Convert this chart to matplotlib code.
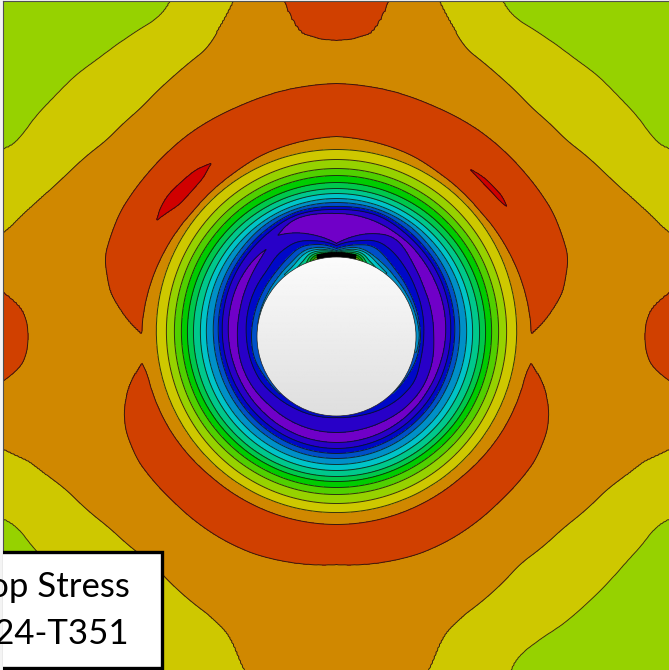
#Hoop stress field around a cold worked hole, contour plot
#every contour is read off the picture as radius against angle (degrees from straight up)
import numpy as np
import matplotlib
matplotlib.use('Agg')
import matplotlib.pyplot as plt
from matplotlib.patches import Rectangle, Circle

plt.rcParams['font.family'] = ['Lato', 'DejaVu Sans']

box_lines = ['Hoop Stress', '2024-T351']

band_colors = ['#7000C8', '#2800C8', '#0008C8', '#0050C8', '#0090C8', '#00C4C8', '#00C88C',
               '#00C84C', '#00CC00', '#50D000', '#96D200', '#CEC800', '#D08800', '#D04000', '#D00000']

#rings around the hole, radius in px where the field reaches each level
ring_angles = [0, 8, 15, 22, 30, 38, 45, 60, 75, 90, 105, 120, 135, 150, 165, 180]
ring_v02 = [127, 127.5, 128, 127.5, 125, 123, 121.5, 118.8, 116.1, 114, 112.5, 111.8, 111.6, 111.7, 111.9, 112]
ring_v03 = [130, 130.5, 131, 130.5, 128.5, 127, 125.3, 122.6, 120, 118, 116.7, 116.4, 116.2, 116.5, 116.8, 117]
ring_v04 = [134, 134, 134, 133.5, 133, 131.5, 129.7, 127.3, 124.9, 123, 121.8, 121.3, 121.3, 121.6, 121.9, 122]
ring_v05 = [138, 137.9, 137.6, 137.3, 136.6, 135.8, 135, 133.3, 131.5, 130, 128.9, 128.3, 128, 128, 128, 128]
ring_v06 = [143, 142.9, 142.7, 142.3, 141.8, 141.1, 140.4, 138.9, 137.3, 136, 135, 134.4, 134.1, 134, 134, 134]
ring_v07 = [148, 147.9, 147.8, 147.6, 147.2, 146.8, 146.3, 145.3, 144.1, 143, 142, 141.3, 140.7, 140.3, 140.1, 140]
ring_v08 = [154, 153.9, 153.8, 153.6, 153.3, 153, 152.4, 151.4, 150.2, 149, 147.9, 146.9, 146, 145.5, 145.1, 145]
ring_v09 = [161, 160.9, 160.7, 160.5, 160.1, 159.6, 159, 158, 156.4, 155, 153.8, 153, 152, 151.4, 151.1, 151]
ring_v10 = [168, 167.9, 167.7, 167.5, 167.1, 166.6, 166, 165, 163.4, 162, 160.8, 160, 159, 158.4, 158.1, 158]
ring_v11 = [177, 176.9, 176.7, 176.4, 175.8, 175.2, 174.5, 173, 171.4, 170, 168.8, 168, 167.5, 167.2, 167, 167]
ring_v12 = [187, 186.9, 186.7, 186.4, 185.9, 185.3, 184.6, 183.1, 181.5, 180, 178.7, 177.6, 176.9, 176.4, 176.1, 176]

#purple band, left side comes in two pieces
left_top_angles = [0, 8, 15, 22, 30]
left_top_in = [93, 100, 106, 112, 117]
left_top_out = [123, 124, 125, 124, 117]
left_low_angles = [39, 45, 60, 75, 90, 105, 120, 135, 150, 165, 180]
left_low_in = [112, 108, 103, 100, 99, 99, 98, 96, 96, 96, 96]
left_low_out = [112, 113, 112, 110, 108, 106.3, 105.5, 105.3, 105.6, 105.9, 106]
right_in = [93, 100, 106, 111, 115, 111, 106, 100, 98, 97, 99, 100, 99, 97, 96, 96]
right_out = [123, 123, 122, 121, 119, 118, 116, 113, 111, 109, 107, 106, 106, 106, 106, 106]

#rise towards the hole edge, 79 means the level is not reached
left_v02_in = [91, 96, 99, 103, 102, 100, 96, 94, 92, 90, 89, 88, 85, 83, 82, 81]
left_v03_in = [88, 93, 95, 97, 93, 90, 88, 86, 85, 85, 85, 82, 81, 80, 79, 79]
left_v04_in = [86, 90, 92, 92, 87, 85, 83, 81, 80, 79, 79, 79, 79, 79, 79, 79]
left_v05_in = [85, 88, 90, 89, 83, 81, 81, 79, 79, 79, 79, 79, 79, 79, 79, 79]
left_hole_v = [11.8, 11.5, 10.5, 7, 6, 5, 5, 4.5, 4.1, 4, 3.6, 3.3, 3, 2.8, 2.5, 2.3]
right_v02_in = [91, 96, 99, 104, 103, 100, 97, 92, 89, 87, 87, 90, 88, 85, 82, 81]
right_v03_in = [88, 92, 95, 98, 94, 90, 88, 85, 84, 84, 83, 81, 80, 79, 79, 79]
right_v04_in = [86, 90, 92, 90, 87, 85, 83, 82, 82, 83, 81, 79, 79, 79, 79, 79]
right_v05_in = [85, 88, 90, 88, 83, 81, 80, 79, 79, 79, 79, 79, 79, 79, 79, 79]
right_hole_v = [11.8, 11.5, 10.5, 7, 6, 5, 4.5, 4.2, 4.5, 4.6, 3.8, 3.3, 3, 2.8, 2.5, 2.3]

#outer contours, both sides share these
red_top_in_a = [0, 22.8, 32, 48.6, 64, 80, 89]
red_top_in_r = [200, 196, 193, 190.6, 192, 194, 195]
red_top_out_a = [0, 22.6, 35, 48, 60, 71, 79, 85.6, 89]
red_top_out_r = [253, 250, 250.5, 249.5, 249.5, 245, 230, 208.6, 195]
red_low_in_a = [98, 101, 119, 139, 153, 180]
red_low_in_r = [196, 193, 191, 188, 187.8, 188]
red_low_out_a = [98, 103, 109, 114, 122, 135, 150, 159, 180]
red_low_out_r = [196, 212, 224.5, 230.7, 234, 232, 232.6, 232.4, 228]
patch_top_a = [0, 3, 6.7, 8.2, 9, 10]
patch_top_r = [296, 297.5, 305, 321, 340, 365]
patch_side_a = [80.5, 82, 84.4, 87, 90, 93, 95.6, 98, 99.5]
patch_side_r = [360, 339, 317.5, 310, 308, 310, 317, 339, 360]
yellow_up_a = [15, 18, 23.7, 28, 32.3, 40.5, 49.5, 60, 65, 73, 78]
yellow_up_r = [365, 343, 316, 311, 306.7, 300.5, 302, 316, 326, 348, 380]
green_up_a = [22, 26.2, 29.1, 36.3, 41.2, 44.6, 49.3, 54.5, 58, 61, 63]
green_up_r = [400, 373, 364.5, 365, 366, 369, 370, 373, 373, 380, 400]
yellow_low_a = [106, 109.1, 110.3, 113.2, 119.3, 130.1, 141, 156.2, 161, 164.4, 168]
yellow_low_r = [365, 352, 338, 327.5, 310.7, 296.7, 292, 307, 318.5, 346, 365]
green_low_a = [116, 118.5, 120.6, 124, 127.6, 134.6, 141.7, 146, 150.3, 152.7, 155]
green_low_r = [395, 379, 371, 370, 367, 366, 366, 364.4, 367, 375, 395]

#small red lenses inside the top lobe
lens_left_a = [36, 40, 45, 50, 54, 57]
lens_left_in = [213.7, 207, 205, 205, 210, 214]
lens_left_out = [213.7, 218, 219, 220, 218, 214]
lens_right_a = [38.7, 42, 46, 50, 52.5]
lens_right_in = [214, 212.5, 212, 212, 214]
lens_right_out = [214, 216.5, 217, 217, 214]

cx, cy, hole_r = 336.5, 336.5, 79.5
line_kw = dict(colors='#101010', linewidths=0.7, alpha=0.8)
phi = np.arange(0, 180.25, 0.5)


def curve(angles, radii, win):
    #contour radius on the fine angle grid, lightly rounded, nan outside its span
    out = np.full(phi.shape, np.nan)
    idx = np.where((phi >= angles[0]) & (phi <= angles[-1]))[0]
    raw = np.interp(phi[idx], angles, radii)
    n = len(raw)
    for k in range(n):
        w = min(k, n - 1 - k, win)
        out[idx[k]] = raw[k - w:k + w + 1].mean()
    return out


def field(curves, r_grid, start):
    #build the value along each ray from the level crossings on it
    rows = []
    for i in range(len(phi)):
        cross = [(c[i], lev, d) for c, lev, d in curves if not np.isnan(c[i]) and c[i] > 79.6]
        cross.sort(key=lambda p: (p[0], -p[2]))
        xs = [r_grid[0]]
        vs = [start[i]]
        for j, (r, lev, d) in enumerate(cross):
            if j > 0 and cross[j - 1][1] == lev and r - cross[j - 1][0] > 0.05:
                xs.append((r + cross[j - 1][0]) / 2)
                vs.append(lev + 0.4 * cross[j - 1][2])
            xs.append(r)
            vs.append(lev)
        xs.append(r_grid[-1])
        vs.append(cross[-1][1] + 0.4 * cross[-1][2] if cross else start[i])
        xs = np.array(xs) + 1e-6 * np.arange(len(xs))
        rows.append(np.interp(r_grid, xs, vs))
    return np.array(rows)


def both_sides(z_left, z_right, r_grid):
    a = np.radians(phi)
    ang = np.concatenate([a, -a[::-1][1:]])
    z = np.vstack([z_left, z_right[::-1][1:]])
    rr, aa = np.meshgrid(r_grid, ang)
    return cx - rr * np.sin(aa), cy - rr * np.cos(aa), z


fig = plt.figure(figsize=(6.69, 6.70), dpi=100, facecolor='#f4f4f4')
ax = fig.add_axes([3 / 669, 0, 666 / 669, 669 / 670])
ax.set_xticks([])
ax.set_yticks([])
for s in ax.spines.values():
    s.set_color('#505050')
    s.set_linewidth(0.8)
ax.spines['right'].set_visible(False)
ax.spines['bottom'].set_visible(False)

#outer layer
w = 4
outer = [(curve(red_top_in_a, red_top_in_r, w), 13, 1), (curve(red_top_out_a, red_top_out_r, w), 13, -1),
         (curve(red_low_in_a, red_low_in_r, w), 13, 1), (curve(red_low_out_a, red_low_out_r, w), 13, -1),
         (curve(patch_top_a, patch_top_r, 1), 13, 1), (curve(patch_side_a, patch_side_r, 2), 13, 1),
         (curve(yellow_up_a, yellow_up_r, w), 12, -1), (curve(green_up_a, green_up_r, w), 11, -1),
         (curve(yellow_low_a, yellow_low_r, w), 12, -1), (curve(green_low_a, green_low_r, w), 11, -1)]
lens_l = [(curve(lens_left_a, lens_left_in, 3), 14, 1), (curve(lens_left_a, lens_left_out, 3), 14, -1)]
lens_r = [(curve(lens_right_a, lens_right_in, 3), 14, 1), (curve(lens_right_a, lens_right_out, 3), 14, -1)]
r_outer = np.arange(150, 490.5, 0.5)
base = np.full(phi.shape, 12.5)
xo, yo, zo = both_sides(field(outer + lens_l, r_outer, base), field(outer + lens_r, r_outer, base), r_outer)
ax.contourf(xo, yo, zo, [10, 11, 12, 13, 14, 15], colors=band_colors[10:15])
ax.contour(xo, yo, zo, [11, 12, 13, 14], **line_kw)

#inner layer, everything below level 12
w = 10
rings = [ring_v02, ring_v03, ring_v04, ring_v05, ring_v06, ring_v07, ring_v08, ring_v09, ring_v10, ring_v11, ring_v12]
shared = [(curve(ring_angles, row, w), k + 2, 1) for k, row in enumerate(rings)]
left = shared + [(curve(left_top_angles, left_top_in, w), 1, -1), (curve(left_top_angles, left_top_out, w), 1, 1),
                 (curve(left_low_angles, left_low_in, w), 1, -1), (curve(left_low_angles, left_low_out, w), 1, 1),
                 (curve(ring_angles, left_v02_in, w), 2, -1), (curve(ring_angles, left_v03_in, w), 3, -1),
                 (curve(ring_angles, left_v04_in, w), 4, -1), (curve(ring_angles, left_v05_in, w), 5, -1)]
right = shared + [(curve(ring_angles, right_in, w), 1, -1), (curve(ring_angles, right_out, w), 1, 1),
                  (curve(ring_angles, right_v02_in, w), 2, -1), (curve(ring_angles, right_v03_in, w), 3, -1),
                  (curve(ring_angles, right_v04_in, w), 4, -1), (curve(ring_angles, right_v05_in, w), 5, -1)]
r_inner = np.arange(79, 197.25, 0.25)
xi, yi, zi = both_sides(field(left, r_inner, curve(ring_angles, left_hole_v, 4)),
                        field(right, r_inner, curve(ring_angles, right_hole_v, 4)), r_inner)
ax.contourf(xi, yi, zi, [-1] + list(range(1, 13)), colors=band_colors[:12])
ax.contour(xi, yi, zi, list(range(1, 13)), **line_kw)

#the contours pile up to a black cap at the very top of the hole
cap = np.hypot(xi - cx, yi - cy) > 84
cap = cap | (np.abs(np.degrees(np.arctan2(xi - cx, cy - yi))) > 14)
ax.contour(xi, yi, np.ma.masked_where(cap, zi), np.arange(4.5, 12, 0.3), colors='black', linewidths=0.9)

#the hole, white at the top going grey at the bottom
grad = np.linspace(0.985, 0.87, 160).reshape(-1, 1)
im = ax.imshow(grad, extent=[cx - hole_r, cx + hole_r, cy + hole_r, cy - hole_r], cmap='gray', vmin=0, vmax=1,
               aspect='auto', zorder=3)
im.set_clip_path(Circle((cx, cy), hole_r, transform=ax.transData))
ax.add_patch(Circle((cx, cy), hole_r, fill=False, ec='#202020', lw=0.5, zorder=3))
ax.set_xlim(3, 669)
ax.set_ylim(670, 1)

#label box, runs off the left edge of the picture like the original
ax.add_patch(Rectangle((-20, 552), 182, 116, fc='white', ec='black', lw=2.4, zorder=5))
ax.text(130, 597, box_lines[0], fontsize=25, ha='right', va='baseline', color='black', zorder=6)
ax.text(129, 644, box_lines[1], fontsize=25, ha='right', va='baseline', color='black', zorder=6)

fig.savefig('out.png', dpi=100, facecolor=fig.get_facecolor())
